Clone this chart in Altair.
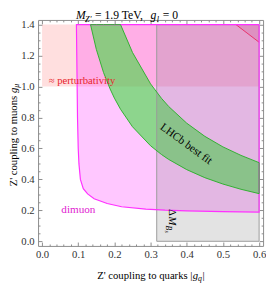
import altair as alt
import pandas as pd

# ---------------- values ----------------
x_major = [0.0, 0.1, 0.2, 0.3, 0.4, 0.5, 0.6]
y_major = [0.0, 0.2, 0.4, 0.6, 0.8, 1.0, 1.2, 1.4]
x_minor = [round(0.02 * i, 2) for i in range(31) if i % 5]
y_minor = [round(0.05 * i, 2) for i in range(29) if i % 4]

# dimuon exclusion boundary: g_mu (y) and left edge |g_q| (x)
dimuon_y = [1.4, 1.2, 1.0, 0.8, 0.6, 0.5, 0.4, 0.34, 0.306, 0.275, 0.244,
            0.223, 0.208, 0.201, 0.197, 0.192, 0.189]
dimuon_x = [0.095, 0.096, 0.097, 0.098, 0.100, 0.102, 0.106, 0.114, 0.126,
            0.144, 0.180, 0.220, 0.287, 0.34, 0.40, 0.50, 0.60]

# LHCb best-fit band
band_x = [0.134, 0.15, 0.17, 0.188, 0.2, 0.217, 0.25, 0.3, 0.33, 0.35, 0.4,
          0.45, 0.5, 0.55, 0.6]
band_lo = [1.4, 1.24, 1.09, 0.985, 0.925, 0.853, 0.74, 0.617, 0.561, 0.529,
           0.463, 0.411, 0.37, 0.336, 0.308]
band_hi = [1.4, 1.4, 1.4, 1.4, 1.4, 1.4, 1.22, 1.017, 0.924, 0.871, 0.763,
           0.678, 0.61, 0.555, 0.508]

# Delta M_Bs excluded region
bs_x = [0.317, 0.6]
bs_y = [0.0, 1.4]
# perturbativity band
pert_x = [0.0, 0.6]
pert_y = [1.0, 1.4]
# top-right (red) boundary
red_x = [0.536, 0.6]
red_y = [1.4, 1.286]

# ---------------- scales ----------------
W, H = 232, 233
xs = alt.Scale(domain=[-0.011, 0.611], nice=False, zero=False)
ys = alt.Scale(domain=[-0.03, 1.43], nice=False, zero=False)
FONT = "Liberation Serif"


def X(f="x"):
    return alt.X(f"{f}:Q", scale=xs, axis=None)


def Y(f="y"):
    return alt.Y(f"{f}:Q", scale=ys, axis=None)


layers = []

# perturbativity
pert = pd.DataFrame({"x": [pert_x[0]], "x2": [pert_x[1]], "y": [pert_y[0]], "y2": [pert_y[1]]})
layers.append(alt.Chart(pert).mark_rect(fill="#FF6060", fillOpacity=0.2, strokeWidth=0)
              .encode(x=X(), x2="x2:Q", y=Y(), y2="y2:Q"))

# dimuon fill
dim = pd.DataFrame({"y": dimuon_y, "x": dimuon_x, "x2": [0.6] * len(dimuon_y)})
layers.append(alt.Chart(dim).mark_area(orient="horizontal", color="#FF00FF", opacity=0.22)
              .encode(y=Y(), x=X(), x2="x2:Q"))

# green band
band = pd.DataFrame({"x": band_x, "lo": band_lo, "hi": band_hi})
layers.append(alt.Chart(band).mark_area(color="#30E030", opacity=0.55)
              .encode(x=X(), y=Y("lo"), y2="hi:Q"))

# gray region
bs = pd.DataFrame({"x": [bs_x[0]], "x2": [bs_x[1]], "y": [bs_y[0]], "y2": [bs_y[1]]})
layers.append(alt.Chart(bs).mark_rect(fill="#808080", fillOpacity=0.22, stroke="#9a9a9a", strokeWidth=1)
              .encode(x=X(), x2="x2:Q", y=Y(), y2="y2:Q"))

# top-right red region
red = pd.DataFrame({"x": red_x, "y": red_y, "y2": [1.4, 1.4]})
layers.append(alt.Chart(red).mark_area(color="#C03070", opacity=0.15)
              .encode(x=X(), y=Y(), y2="y2:Q"))
layers.append(alt.Chart(red).mark_line(color="#E8306A", strokeWidth=1)
              .encode(x=X(), y=Y()))

# dimuon outline
ox = [0.6] + dimuon_x + [0.6]
oy = [1.4] + dimuon_y + [1.4]
dim_out = pd.DataFrame({"x": ox, "y": oy, "o": list(range(len(ox)))})
layers.append(alt.Chart(dim_out).mark_line(color="#FF30FF", strokeWidth=1.2)
              .encode(x=X(), y=Y(), order="o:Q"))

# green outline
gx = band_x + [0.6] + band_x[::-1]
gy = band_lo + [band_hi[-1]] + band_hi[::-1]
g_out = pd.DataFrame({"x": gx, "y": gy, "o": list(range(len(gx)))})
layers.append(alt.Chart(g_out).mark_line(color="#30B030", strokeWidth=1)
              .encode(x=X(), y=Y(), order="o:Q"))


def txt(s, x, y, size=11, style="normal", color="#000000", angle=0, align="left", baseline="alphabetic"):
    d = pd.DataFrame({"x": [x], "y": [y], "t": [s]})
    return (alt.Chart(d)
            .mark_text(font=FONT, fontSize=size, fontStyle=style, color=color,
                       angle=angle, align=align, baseline=baseline)
            .encode(x=X(), y=Y(), text="t:N"))


# title pieces
layers += [
    txt("M", 0.0936, 1.4331, 12, "italic"),
    txt("Z'", 0.119, 1.4175, 8.5, "italic"),
    txt("= 1.9 TeV,", 0.1464, 1.4331, 12),
    txt("g", 0.300, 1.4331, 12, "italic"),
    txt("l", 0.3174, 1.4175, 8.5, "italic"),
    txt("= 0", 0.3335, 1.4331, 12),
]
# x-axis title
layers += [
    txt("Z' coupling to quarks |", 0.1525, -0.243, 11),
    txt("g", 0.4166, -0.243, 11, "italic"),
    txt("q", 0.4314, -0.2587, 8, "italic"),
    txt("|", 0.4434, -0.243, 11),
]
# y-axis title
layers += [
    txt("Z' coupling to muons", -0.070, 0.3554, 11, angle=270),
    txt("g", -0.070, 0.9575, 11, "italic", angle=270),
    txt("μ", -0.0633, 0.992, 8, "italic", angle=270),
]
# annotations
layers += [
    txt("≈ perturbativity", 0.0185, 1.0164, 11, color="#E8242C"),
    txt("dimuon", 0.0533, 0.183, 11.5, color="#E020D0"),
    txt("LHCb best fit", 0.3978, 0.628, 11.5, angle=36, align="center", baseline="middle"),
    txt("Δ", 0.351, 0.2081, 11, angle=90),
    txt("M", 0.351, 0.161, 11, "italic", angle=90),
    txt("B", 0.3429, 0.1016, 8, "italic", angle=90),
    txt("s", 0.339, 0.0703, 6, "italic", angle=90),
]

# axes (labels + inward frame ticks)
TC = "#8a8a8a"
dummy = pd.DataFrame({"x": [0.3], "y": [0.7]})


def axis_layer(xa, ya):
    return (alt.Chart(dummy).mark_point(opacity=0)
            .encode(x=alt.X("x:Q", scale=xs, axis=xa), y=alt.Y("y:Q", scale=ys, axis=ya)))


lab = dict(labelFont=FONT, labelFontSize=11, labelColor="#333333", ticks=False, tickSize=0,
           domain=False, title=None, grid=False)
layers.append(axis_layer(
    alt.Axis(orient="bottom", values=x_major, format=".1f", labelPadding=3, **lab),
    alt.Axis(orient="left", values=y_major, format=".1f", labelPadding=4, **lab)))

tk = dict(labels=False, domain=False, title=None, grid=False, tickColor=TC, tickWidth=1)
for vals_x, vals_y, size in [(x_major, y_major, 4), (x_minor, y_minor, 2)]:
    layers.append(axis_layer(
        alt.Axis(orient="top", offset=-H, values=vals_x, tickSize=size, **tk),
        alt.Axis(orient="right", offset=-W, values=vals_y, tickSize=size, **tk)))
    layers.append(axis_layer(
        alt.Axis(orient="bottom", offset=-H, values=vals_x, tickSize=size, **tk),
        alt.Axis(orient="left", offset=-W, values=vals_y, tickSize=size, **tk)))

chart = (alt.layer(*layers)
         .resolve_axis(x="independent", y="independent")
         .properties(width=W, height=H,
                     autosize=alt.AutoSizeParams(type="none"),
                     padding={"left": 31, "top": 8, "right": 3, "bottom": 38})
         .configure_view(stroke=TC, strokeWidth=1)
         .configure_axis(grid=False))

chart.save("out.html", embed_options={"renderer": "svg", "actions": False})
